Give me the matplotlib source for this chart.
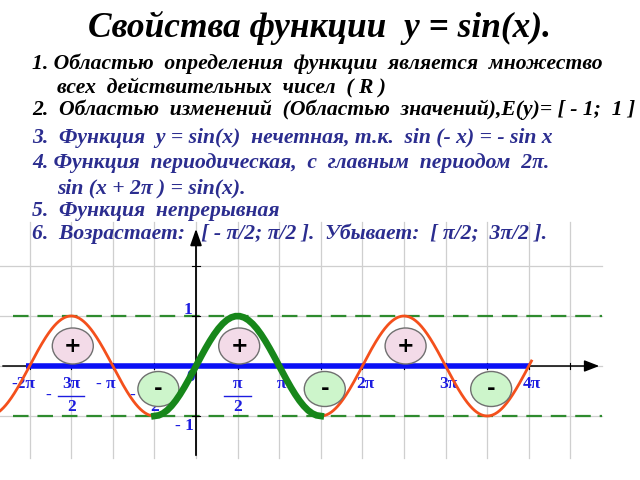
import numpy as np
import matplotlib.pyplot as plt
from matplotlib.patches import Ellipse

PI = np.pi

# --- text of the slide ---
title = "Свойства функции  y = sin(x)."
black_lines = [
    ("1. Областью  определения  функции  является  множество", 0),
    ("всех  действительных  чисел  ( R )", 1),
    ("2.  Областью  изменений  (Областью  значений),E(y)= [ - 1;  1 ]", 0),
]
blue_lines = [
    ("3.  Функция  y = sin(x)  нечетная, т.к.  sin (- x) = - sin x", 0),
    ("4. Функция  периодическая,  с  главным  периодом  2π.", 0),
    ("sin (x + 2π ) = sin(x).", 1),
    ("5.  Функция  непрерывная", 0),
    ("6.  Возрастает:   [ - π/2; π/2 ].  Убывает:  [ π/2;  3π/2 ].", 0),
]

# --- chart data ---
orange_left = (-7.45, -PI / 2)      # thin sin curve, left part
green_part = (-PI / 2, 3 * PI / 2)  # thick sin curve, one period
orange_right = (3 * PI / 2, 4 * PI + 0.1)
blue_span = (-2 * PI - 0.15, 4 * PI)
plus_x = [-3 * PI / 2, PI / 2, 5 * PI / 2]
minus_x = [-PI / 2, 3 * PI / 2, 7 * PI / 2]
simple_ticks = [-2 * PI, -PI, PI, 2 * PI, 3 * PI, 4 * PI]
simple_labels = ["-2π", "- π", "π", "2π", "3π", "4π"]
frac_ticks = [-3 * PI / 2, -PI / 2, PI / 2]
frac_nums = ["3π", "π", "π"]
frac_minus = [True, True, False]

NAVY = "#2b2d8f"
TICKBLUE = "#1c1ce0"
SERIF = "Liberation Serif"

fig = plt.figure(figsize=(6.4, 4.8), dpi=100)

fig.text(0.5, 1 - 37 / 480, title, ha="center", va="baseline", fontsize=25.5,
         family=SERIF, weight="bold", style="italic", color="black")

base = [69, 92, 115]
for (s, ind), b in zip(black_lines, base):
    fig.text((32 + 25 * ind) / 640, 1 - b / 480, s, ha="left", va="baseline",
             fontsize=15.6, family=SERIF, weight="bold", style="italic", color="black")
base = [143, 168, 193, 216, 239]
for (s, ind), b in zip(blue_lines, base):
    fig.text((32 + 25 * ind) / 640, 1 - b / 480, s, ha="left", va="baseline",
             fontsize=15.6, family=SERIF, weight="bold", style="italic", color=NAVY)

# axes mapped so that pi/2 = 41.6 px and 1 unit = 50 px
K = 41.6 / (PI / 2)
ax = fig.add_axes([0, 0, 1, 260 / 480])
ax.set_xlim(-196 / K, 444 / K)
ax.set_ylim(-114 / 50, 146 / 50)
ax.axis("off")

x_right = 406 / K
# grid
for k in range(-4, 10):
    ax.plot([k * PI / 2] * 2, [-1.84, 2.88], color="#cfcfcf", lw=0.9, zorder=1)
for yv in [-1, 0, 1, 2]:
    ax.plot([-7.4, x_right], [yv, yv], color="#cfcfcf", lw=0.9, zorder=1)

# dashed bounds
for yv in [1, -1]:
    ax.plot([-6.9, x_right], [yv, yv], color="#2e8b2e", lw=1.6,
            dashes=(7, 4), zorder=2)

# axes with arrows
ax.annotate("", xy=(x_right, 0), xytext=(-7.4, 0),
            arrowprops=dict(arrowstyle="-|>,head_length=0.9,head_width=0.35",
                            color="black", lw=1.1), zorder=3)
ax.annotate("", xy=(0, 2.8), xytext=(0, -1.84),
            arrowprops=dict(arrowstyle="-|>,head_length=1.0,head_width=0.35",
                            color="black", lw=1.3), zorder=3, annotation_clip=False)
for k in range(-4, 10):
    ax.plot([k * PI / 2] * 2, [-0.06, 0.06], color="black", lw=0.8, zorder=3)
for yv in [-1, 1, 2]:
    ax.plot([-0.15, 0.15], [yv, yv], color="black", lw=0.8, zorder=3)

# blue domain line
ax.plot(blue_span, [0, 0], color="#0a10f5", lw=4, solid_capstyle="butt", zorder=4)

# tick labels
lab = dict(color=TICKBLUE, family=SERIF, weight="bold", fontsize=12.5,
           ha="center", va="center", zorder=3)
for xv, s in zip(simple_ticks, simple_labels):
    dx = -0.25 if xv < 0 else 0.1
    ax.text(xv + dx, -0.36, s, **lab)
for xv, num, neg in zip(frac_ticks, frac_nums, frac_minus):
    ax.text(xv, -0.36, num, **lab)
    ax.plot([xv - 0.5, xv + 0.5], [-0.59, -0.59], color=TICKBLUE, lw=1, zorder=3)
    ax.text(xv, -0.82, "2", **lab)
    if neg:
        ax.text(xv - 0.85, -0.6, "-", **lab)
ax.text(-0.2, -0.22, "0", **lab)
ax.text(-0.3, 1.12, "1", **lab)
ax.text(-0.45, -1.2, "- 1", **lab)

# curves
xs = np.linspace(*orange_left, 200)
ax.plot(xs, np.sin(xs), color="#f4501c", lw=2, zorder=5)
xs = np.linspace(*orange_right, 300)
ax.plot(xs, np.sin(xs), color="#f4501c", lw=2, zorder=5)

# sign circles
for xv in plus_x:
    ax.add_patch(Ellipse((xv + 0.06, 0.4), 41 / K, 0.72, facecolor="#f3dbe8",
                         edgecolor="#707070", lw=1, zorder=6))
    ax.text(xv + 0.06, 0.4, "+", ha="center", va="center", fontsize=15,
            weight="bold", color="black", zorder=7)
for xv in minus_x:
    ax.add_patch(Ellipse((xv + 0.15, -0.46), 41 / K, 0.7, facecolor="#cdf5cb",
                         edgecolor="#707070", lw=1, zorder=6))
    ax.text(xv + 0.15, -0.46, "-", ha="center", va="center", fontsize=15,
            weight="bold", color="black", zorder=7)

xs = np.linspace(*green_part, 40)
ax.plot(xs, np.sin(xs), color="#17871a", lw=4.8, solid_joinstyle="miter", zorder=8)

fig.savefig("out.png", dpi=100)
